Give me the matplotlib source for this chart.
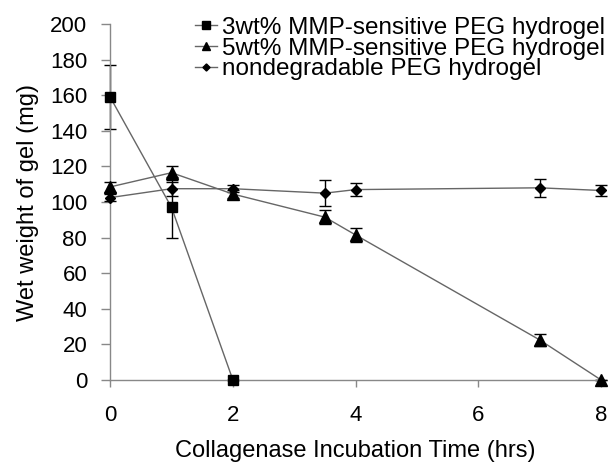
import matplotlib
matplotlib.use("Agg")
import matplotlib.pyplot as plt

plt.rcParams['font.family'] = ['Liberation Sans', 'DejaVu Sans']

x3 = [0, 1, 2]
y3 = [159, 97, 0]
e3 = [18, 17, 0]

x5 = [0, 1, 2, 3.5, 4, 7, 8]
y5 = [108.5, 116.5, 104.5, 91.5, 81.5, 22.5, 0]
e5 = [3, 4, 2, 4, 4, 3.5, 0]

xn = [0, 1, 2, 3.5, 4, 7, 8]
yn = [102.5, 107.5, 107.5, 105, 107, 108, 106.5]
en = [2, 4, 2, 7.5, 3.5, 5, 3]

labels = ['3wt% MMP-sensitive PEG hydrogel',
          '5wt% MMP-sensitive PEG hydrogel',
          'nondegradable PEG hydrogel']

fig = plt.figure(figsize=(6.12, 4.65), dpi=100)
ax = fig.add_axes([0.18, 0.183, 0.802, 0.765])

common = dict(color='black', ecolor='black', elinewidth=1.0, capsize=4, capthick=1.0)
for xs, ys, es, m, ms, lab in [(x3, y3, e3, 's', 7.5, labels[0]),
                               (x5, y5, e5, '^', 8, labels[1]),
                               (xn, yn, en, 'D', 4.8, labels[2])]:
    eb = ax.errorbar(xs, ys, yerr=es, fmt='none', **common)
    for art in eb.lines[1] + eb.lines[2]:
        art.set_clip_on(False)
    for art in eb.lines[2]:
        art.set_clip_on(False)
    ax.plot(xs, ys, color='#666666', lw=1.0, marker=m, ms=ms,
            mfc='black', mec='black', label=lab, zorder=3, clip_on=False)

ax.set_xlim(0, 8)
ax.set_ylim(0, 200)
ax.set_xticks([0, 2, 4, 6, 8])
ax.set_yticks(range(0, 201, 20))
for s in ['top', 'right']:
    ax.spines[s].set_visible(False)
for s in ['left', 'bottom']:
    ax.spines[s].set_color('#888888')
    ax.spines[s].set_linewidth(1.0)
    ax.spines[s].set_clip_on(False)
ax.tick_params(axis='both', colors='#888888', labelcolor='black', labelsize=16,
               width=1.0, direction='out')
ax.tick_params(axis='x', length=5, pad=13)
ax.tick_params(axis='y', length=6.5, pad=10)
ax.set_xlabel('Collagenase Incubation Time (hrs)', fontsize=17, labelpad=10)
ax.set_ylabel('Wet weight of gel (mg)', fontsize=17, labelpad=8)

leg = ax.legend(loc='upper left', bbox_to_anchor=(0.173, 1.021), frameon=False,
                fontsize=17.5, handlelength=0.9, handletextpad=0.2,
                labelspacing=-0.05, borderaxespad=0, borderpad=0,
                markerscale=0.75)

fig.savefig('out.png', dpi=100)
